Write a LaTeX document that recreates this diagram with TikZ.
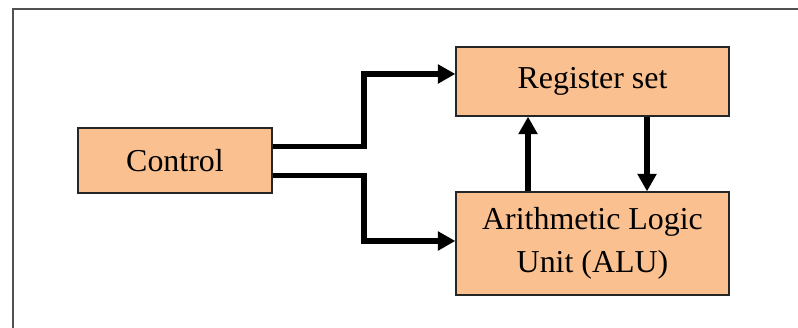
\documentclass[tikz,border=0pt]{standalone}
\usepackage{fontspec}
\setmainfont{Liberation Serif}
\usepackage{tikz}
\usetikzlibrary{arrows.meta}
\definecolor{box_fill}{HTML}{FAC090}
\definecolor{box_line}{HTML}{262626}

\tikzset{
  unit/.style={draw=box_line, line width=0.9pt, fill=box_fill, inner sep=0pt,
    align=center, font=\fontsize{22.7}{30.5}\selectfont},
  bus/.style={line width=3.6pt, -{Triangle[length=0.44cm,width=0.46cm]}}
}

\begin{document}
\begin{tikzpicture}
  \useasboundingbox (0,0) rectangle (19.95,8.2);

  % Frame
  \draw[box_line!80, line width=1pt] (0.325,-0.2) |- (20.2,7.975);

  % Blocks
  \node[unit, minimum width=4.85cm, minimum height=1.625cm] (ctrl) at (4.375,4.1875) {Control};
  \node[unit, minimum width=6.825cm, minimum height=1.725cm] (regs) at (14.8125,6.1625) {Register set};
  \node[unit, minimum width=6.825cm, minimum height=2.575cm] (alu) at (14.8125,2.1125) {Arithmetic Logic\\Unit (ALU)};

  % Control lines
  \draw[bus] ([yshift=-0.475cm]ctrl.north east) -| (9.1,6.35) -- (regs.west |- 0,6.35);
  \draw[bus] ([yshift=0.45cm]ctrl.south east) -| (9.1,2.175) -- (alu.west |- 0,2.175);

  % Data paths
  \draw[bus] (alu.north -| 13.2,0) -- (regs.south -| 13.2,0);
  \draw[bus] (regs.south -| 16.175,0) -- (alu.north -| 16.175,0);
\end{tikzpicture}
\end{document}
